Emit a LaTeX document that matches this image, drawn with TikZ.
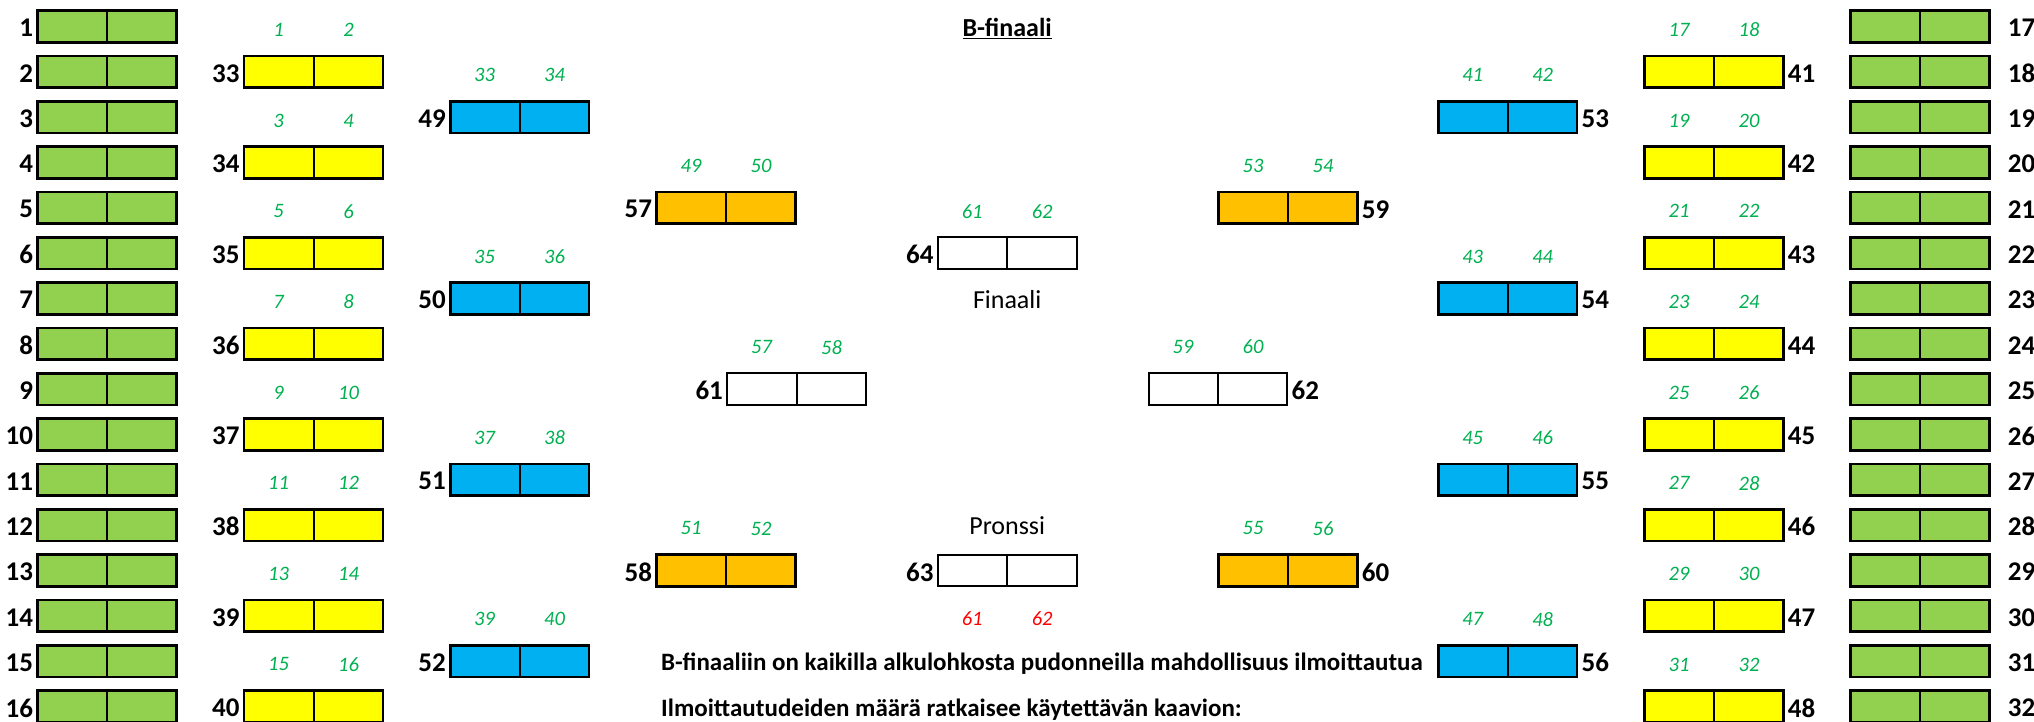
\documentclass[tikz,border=0pt]{standalone}
\usepackage{fontspec}
\setmainfont{Carlito}
\usepackage{tikz}
\usetikzlibrary{positioning}
\definecolor{grassgreen}{HTML}{92D050}
\definecolor{sunyellow}{HTML}{FFFF00}
\definecolor{skyblue}{HTML}{00B0F0}
\definecolor{amber}{HTML}{FFC000}
\definecolor{seedgreen}{HTML}{00B050}
\tikzstyle{matchbox}=[rectangle,draw=black,line width=2.6pt,inner sep=0pt,
minimum width=138.8pt,minimum height=31.8pt,
path picture={\draw[line width=2pt] (path picture bounding box.north) -- (path picture bounding box.south);}]
\tikzstyle{finalbox}=[matchbox,line width=2pt,fill=white]
\tikzstyle{matchno}=[inner sep=0pt,yshift=-1.5pt,font=\fontsize{27}{27}\selectfont\bfseries]
\tikzstyle{seedno}=[inner sep=0pt,text=seedgreen,font=\fontsize{20.5}{20}\selectfont\itshape]
\tikzstyle{caption}=[inner sep=0pt,anchor=base,font=\fontsize{26}{26}\selectfont]
\tikzstyle{notetext}=[inner sep=0pt,anchor=base west,font=\fontsize{25}{25}\selectfont\bfseries]
\newcommand{\rowy}[1]{26.5+45.33*(#1-1)}

\begin{document}
\begin{tikzpicture}[x=1pt,y=-1pt]
    \useasboundingbox (0,0) rectangle (2034,721);

    % first round, left and right
    \foreach \i [evaluate=\i as \mno using int(16+\i)] in {1,...,16}{
        \node[matchbox, fill=grassgreen] (gl\i) at (107,{\rowy{\i}}) {};
        \node[matchno, left=3pt of gl\i] {\i};
        \node[matchbox, fill=grassgreen] (gr\i) at (1920,{\rowy{\i}}) {};
        \node[matchno, right=17pt of gr\i] {\mno};
    }

    % second round
    \foreach \k [evaluate=\k as \rw using int(2*\k),
                 evaluate=\k as \seedA using int(2*\k-1),
                 evaluate=\k as \mnoL using int(32+\k),
                 evaluate=\k as \mnoR using int(40+\k),
                 evaluate=\k as \seedC using int(16+2*\k-1),
                 evaluate=\k as \seedD using int(16+2*\k)] in {1,...,8}{
        \node[matchbox, fill=sunyellow] (yl\k) at (313.5,{\rowy{\rw}}) {};
        \node[matchno, left=3pt of yl\k] {\mnoL};
        \node[seedno] at ([shift={(-35pt,42pt)}]yl\k.center) {\seedA};
        \node[seedno] at ([shift={(35pt,42pt)}]yl\k.center) {\rw};
        \node[matchbox, fill=sunyellow] (yr\k) at (1714,{\rowy{\rw}}) {};
        \node[matchno, right=3pt of yr\k] {\mnoR};
        \node[seedno] at ([shift={(-35pt,42pt)}]yr\k.center) {\seedC};
        \node[seedno] at ([shift={(35pt,42pt)}]yr\k.center) {\seedD};
    }

    % third round
    \foreach \k [evaluate=\k as \rw using int(4*\k-1),
                 evaluate=\k as \mnoL using int(48+\k),
                 evaluate=\k as \mnoR using int(52+\k),
                 evaluate=\k as \seedA using int(32+2*\k-1),
                 evaluate=\k as \seedB using int(32+2*\k),
                 evaluate=\k as \seedC using int(40+2*\k-1),
                 evaluate=\k as \seedD using int(40+2*\k)] in {1,...,4}{
        \node[matchbox, fill=skyblue] (bl\k) at (519.6,{\rowy{\rw}}) {};
        \node[matchno, left=3pt of bl\k] {\mnoL};
        \node[seedno] at ([shift={(-35pt,42pt)}]bl\k.center) {\seedA};
        \node[seedno] at ([shift={(35pt,42pt)}]bl\k.center) {\seedB};
        \node[matchbox, fill=skyblue] (br\k) at (1507.7,{\rowy{\rw}}) {};
        \node[matchno, right=3pt of br\k] {\mnoR};
        \node[seedno] at ([shift={(-35pt,42pt)}]br\k.center) {\seedC};
        \node[seedno] at ([shift={(35pt,42pt)}]br\k.center) {\seedD};
    }

    % quarter finals
    \foreach \k [evaluate=\k as \rw using int(8*\k-3),
                 evaluate=\k as \mnoL using int(56+\k),
                 evaluate=\k as \mnoR using int(58+\k),
                 evaluate=\k as \seedA using int(48+2*\k-1),
                 evaluate=\k as \seedB using int(48+2*\k),
                 evaluate=\k as \seedC using int(52+2*\k-1),
                 evaluate=\k as \seedD using int(52+2*\k)] in {1,2}{
        \node[matchbox, fill=amber] (ol\k) at (726,{\rowy{\rw}}) {};
        \node[matchno, left=3pt of ol\k] {\mnoL};
        \node[seedno] at ([shift={(-35pt,42pt)}]ol\k.center) {\seedA};
        \node[seedno] at ([shift={(35pt,42pt)}]ol\k.center) {\seedB};
        \node[matchbox, fill=amber] (or\k) at (1288,{\rowy{\rw}}) {};
        \node[matchno, right=3pt of or\k] {\mnoR};
        \node[seedno] at ([shift={(-35pt,42pt)}]or\k.center) {\seedC};
        \node[seedno] at ([shift={(35pt,42pt)}]or\k.center) {\seedD};
    }

    % semi finals
    \node[finalbox] (sl) at (796.5,{\rowy{9}}) {};
    \node[matchno, left=3pt of sl] {61};
    \node[seedno] at ([shift={(-35pt,42pt)}]sl.center) {57};
    \node[seedno] at ([shift={(35pt,42pt)}]sl.center) {58};
    \node[finalbox] (sr) at (1218,{\rowy{9}}) {};
    \node[matchno, right=3pt of sr] {62};
    \node[seedno] at ([shift={(-35pt,42pt)}]sr.center) {59};
    \node[seedno] at ([shift={(35pt,42pt)}]sr.center) {60};

    % final and bronze
    \node[finalbox] (fin) at (1007.2,{\rowy{6}}) {};
    \node[matchno, left=3pt of fin] {64};
    \node[seedno] at ([shift={(-35pt,42pt)}]fin.center) {61};
    \node[seedno] at ([shift={(35pt,42pt)}]fin.center) {62};
    \node[caption] (finlabel) at (1007.2,{\rowy{7}+9.8}) {Finaali};

    \node[finalbox] (bronze) at (1007.2,{\rowy{13}}) {};
    \node[matchno, left=3pt of bronze] {63};
    \node[caption] (bronzelabel) at (1007.2,{\rowy{12}+9.8}) {Pronssi};
    \node[seedno, text=red] at ([shift={(-35pt,-48.6pt)}]bronze.center) {61};
    \node[seedno, text=red] at ([shift={(35pt,-48.6pt)}]bronze.center) {62};

    % texts
    \node[caption, font=\fontsize{26}{26}\selectfont\bfseries] (title) at (1007.2,{\rowy{1}+9.8}) {\underline{B-finaali}};
    \node[notetext] (note1) at (661,{\rowy{15}+9.8}) {B-finaaliin on kaikilla alkulohkosta pudonneilla mahdollisuus ilmoittautua};
    \node[notetext] (note2) at (661,{\rowy{16}+9.8}) {Ilmoittautudeiden määrä ratkaisee käytettävän kaavion:};
\end{tikzpicture}
\end{document}
